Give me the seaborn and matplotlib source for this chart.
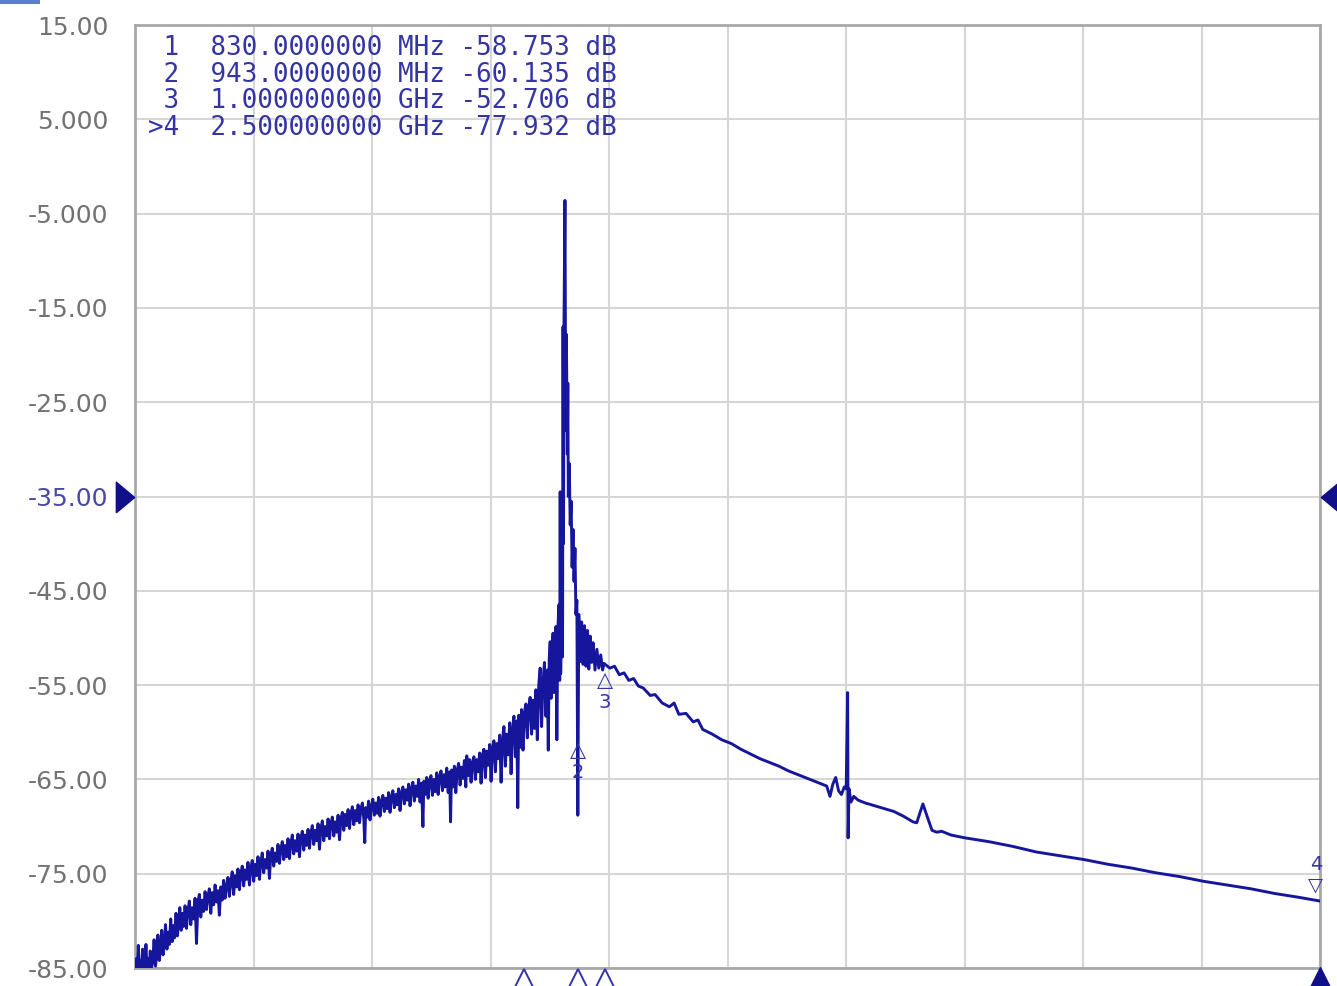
import numpy as np
import pandas as pd
import matplotlib
matplotlib.use("Agg")
import matplotlib.pyplot as plt
import matplotlib.transforms as mtransforms
from matplotlib.patches import Rectangle
import seaborn as sns

# ---------------- data ----------------
freq_mhz = [
    # floor
    14, 17, 19, 21, 23, 26, 28, 30, 32, 35, 37, 39, 42, 44, 46, 48,
    51, 54, 57, 60, 62, 65, 68, 70, 73, 76, 78, 81, 84, 86, 89, 92, 95, 97, 100, 103, 106, 108, 111, 114, 116, 119,
    122, 125, 128, 131, 134, 137, 140, 143, 146, 149, 152, 155, 158, 161, 164, 167, 170, 173, 176, 179, 182, 185,
    188, 191, 194, 197, 200, 203, 206, 209, 212,
    215, 218, 221, 224, 227, 230, 233, 236, 239, 242, 245, 248, 251, 254, 257, 260, 263, 266, 269, 272, 275, 278,
    281, 284, 287, 290, 293, 296, 299,
    302, 305, 308, 311, 314, 317, 320, 323, 326, 329, 332, 335, 338, 341, 344, 347, 350, 353, 356, 359, 362, 365,
    368, 371, 374, 377, 380, 383, 386, 389, 392, 395, 398, 401, 404, 407, 410, 413, 416, 419, 422, 425, 428, 431,
    434, 437, 440, 443, 446,
    449, 452, 455, 458, 461, 464, 467, 470, 473, 476, 479, 482, 485, 488, 491, 494, 496, 498, 501, 504, 507, 510,
    513, 516, 519, 522, 525, 528, 531, 534, 537, 540, 543, 546, 549, 552, 555, 558, 561, 564, 567, 570,
    573, 576, 579, 582, 585, 588, 591, 594, 597, 600, 603, 606, 609, 612, 615, 618, 620, 623, 626, 629, 632, 635,
    638, 641, 644, 647, 650, 653, 656, 659, 662, 665, 668, 671, 674, 676, 678,
    681, 684, 687, 690, 693, 696, 699, 702, 705, 708, 710, 713, 716, 719, 722, 725, 728, 731, 734, 737, 740, 743,
    746, 749, 752, 755, 758, 761, 764, 767, 770, 773, 776, 779,
    782, 785, 788, 791, 794, 797, 800, 803, 806, 809, 812, 815, 817, 819, 822, 825, 828, 831, 834, 837, 840, 843,
    846, 849, 852, 855, 858, 861, 864, 867, 870, 873, 876, 879, 881, 883, 885, 887, 889, 891, 893, 895, 897, 899,
    901, 903, 905, 906, 907, 909, 911,
    # carrier
    912, 913, 914, 916, 917, 918, 919, 921, 922, 923, 925, 927, 929, 931, 933, 935, 937, 939, 941, 943, 945, 948,
    951, 954, 957, 960, 963, 966, 969, 972, 975, 979, 983, 987, 991, 995, 998,
    # roll-off
    1010, 1020, 1030, 1040, 1050, 1060, 1070, 1080, 1095, 1105, 1120, 1135, 1145, 1155, 1170, 1185, 1195, 1205,
    1225, 1245, 1265, 1285, 1305, 1325, 1345, 1365, 1385, 1405, 1425, 1445, 1465, 1472, 1478, 1484, 1490, 1496,
    1502, 1506, 1509, 1510, 1512, 1516, 1522, 1531, 1546, 1566, 1586, 1606, 1626, 1646, 1654, 1661, 1667, 1675,
    1686, 1696, 1706, 1726, 1755, 1805, 1855, 1905, 1955, 2005, 2055, 2105, 2155, 2205, 2255, 2305, 2355, 2405,
    2455, 2500,
]
level_db = [
    -85, -84, -85, -82.6, -85, -84.2, -85, -83, -85, -84.5, -82.5, -85, -84, -85, -83.2, -85,
    -84.5, -82, -84.8, -83.5, -81.5, -84.2, -82.8, -81, -83.6, -82, -80.4, -83, -81.2, -82.5, -79.8, -82.2, -80.5, -81.8, -79.2, -81.6, -80, -78.6, -81, -79.2, -80.6, -78.4,
    -80.8, -79, -77.9, -80.4, -78.6, -79.8, -77.6, -82.4, -78, -77.2, -79.6, -77.8, -79, -76.9, -78.8, -77.4, -76.6, -79.2, -77, -78.3, -76.2, -78,
    -76.8, -79.4, -76.4, -77.8, -75.7, -77.6, -76.3, -75.4, -77.4,
    -75.8, -74.8, -77.2, -75.2, -76.4, -74.5, -76.7, -75, -74.2, -76.3, -74.6, -75.6, -73.8, -76.2, -74.4, -73.6, -75.8, -74, -75.2, -73.2, -75.6, -73.8,
    -72.8, -74.9, -73.5, -74.4, -72.6, -75.5, -73,
    -72.3, -74.2, -72.8, -73.7, -71.9, -73.9, -72.4, -71.6, -73.5, -72, -73.2, -71.3, -73.4, -71.8, -70.9, -72.9, -71.5, -72.6, -70.8, -73.2, -71.2, -70.5,
    -72.5, -70.9, -72, -70.3, -72.3, -70.7, -69.9, -71.9, -70.4, -71.5, -69.7, -72.4, -70.2, -69.4, -71.5, -70, -71, -69.2, -71.3, -69.7, -69, -71,
    -69.5, -70.6, -68.8, -71.4, -69.2,
    -68.5, -70.4, -68.7, -69.9, -68.2, -70.2, -68.6, -67.9, -69.8, -68.3, -69.4, -67.7, -69.6, -68.1, -67.5, -69.2, -71.7, -68, -69, -67.3, -69.3, -67.8,
    -67.1, -68.8, -67.5, -68.6, -66.9, -68.9, -67.3, -66.7, -68.4, -67, -68.1, -66.4, -68.5, -66.8, -66.2, -68, -66.6, -67.7, -66, -68.3,
    -66.4, -65.8, -67.6, -66.1, -67.2, -65.5, -67.8, -65.9, -65.3, -67.3, -65.7, -66.8, -65, -67.4, -65.4, -70, -65.2, -66.6, -64.8, -67, -65.1, -64.6,
    -66.7, -65, -66.3, -64.3, -66.6, -64.7, -64.1, -66.2, -64.5, -65.8, -63.8, -66.4, -64.2, -69.5, -64,
    -65.8, -63.6, -66.4, -64, -63.3, -65.6, -63.7, -64.9, -63, -65.8, -62.5, -64.6, -62.9, -65.3, -63.2, -62.6, -65, -62.9, -64.2, -62.2, -65.4, -62.4,
    -61.8, -64.8, -62, -63.5, -61.3, -65.2, -61.6, -60.9, -64.2, -61.2, -62.8, -60.3,
    -65.3, -60.8, -59.4, -63.6, -60.2, -62.4, -59, -64.4, -59.6, -58.3, -62.6, -58.8, -68, -58.2, -61.6, -57.6, -61.9, -57.9, -57, -60.6, -57.3, -56.3,
    -60.2, -56.6, -59.6, -55.5, -60.8, -55, -53.2, -59.4, -54.6, -52.6, -58.3, -53.4, -61.9, -52.2, -50.4, -56.4, -51.6, -49.5, -55.8, -50.2, -48.8, -60.8,
    -49.4, -46.5, -54.5, -34.5, -53.8, -47, -52,
    -17, -40, -16.5, -3.6, -17.5, -28, -17.8, -30.5, -23, -35, -31.5, -38, -35.5, -42.5, -38.5, -44, -40.5, -47.5, -46, -68.8, -47.5, -52.5,
    -48.3, -52.8, -48.7, -53, -49.2, -53.3, -49.8, -52.6, -50.5, -53.4, -51.2, -53.2, -51.8, -53.4, -52.7,
    -53.2, -53.0, -53.9, -53.7, -54.5, -54.3, -55.1, -55.3, -56.1, -56.0, -56.9, -57.3, -56.9, -58.1, -58.0, -58.9, -58.7, -59.7,
    -60.2, -60.8, -61.2, -61.8, -62.3, -62.8, -63.2, -63.6, -64.1, -64.5, -64.9, -65.3, -65.7, -66.8, -65.5, -64.8, -66.2, -66.6,
    -65.8, -66, -55.8, -71.2, -66, -67.4, -66.8, -67.2, -67.5, -67.8, -68.1, -68.4, -68.9, -69.5, -69.6, -68.5, -67.6, -68.8,
    -70.4, -70.6, -70.5, -70.9, -71.2, -71.6, -72.1, -72.7, -73.1, -73.5, -74, -74.4, -74.9, -75.3, -75.8, -76.2, -76.6, -77.1,
    -77.5, -77.9,
]

marker_ids = ["1", "2", "3", ">4"]
marker_freqs_mhz = [830, 943, 1000, 2500]
marker_vals_db = [-58.753, -60.135, -52.706, -77.932]
marker_freq_text = ["830.0000000", "943.0000000", "1.000000000", "2.500000000"]
marker_units = ["MHz", "MHz", "GHz", "GHz"]

y_ticks = [15, 5, -5, -15, -25, -35, -45, -55, -65, -75, -85]
y_tick_labels = ["15.00", "5.000", "-5.000", "-15.00", "-25.00", "-35.00",
                 "-45.00", "-55.00", "-65.00", "-75.00", "-85.00"]
x_span_mhz = (14, 2500)
ref_level = -35

df = pd.DataFrame({"freq": freq_mhz, "db": level_db})

# ---------------- styling ----------------
sns.set_theme(style="white")
plt.rcParams["font.family"] = ["DejaVu Sans"]

NAVY = "#16169c"
TEXT_BLUE = "#3434a4"
GRID = "#d6d6d6"
SPINE = "#a8a8a8"
TICK_GRAY = "#727272"

W, H = 1337, 986
fig = plt.figure(figsize=(W / 100, H / 100), dpi=100)
fig.patch.set_facecolor("white")
x0, x1, y0, y1 = 135, 1320, 25, 968
ax = fig.add_axes([x0 / W, 1 - y1 / H, (x1 - x0) / W, (y1 - y0) / H])
ax.set_facecolor("white")

sns.lineplot(data=df, x="freq", y="db", sort=False, estimator=None,
             color=NAVY, linewidth=2.1, ax=ax, zorder=3)

ax.set_xlim(*x_span_mhz)
ax.set_ylim(-85, 15)
ax.set_xticks(np.linspace(x_span_mhz[0], x_span_mhz[1], 11))
ax.set_xticklabels([])
ax.set_yticks(y_ticks)
ax.set_yticklabels(y_tick_labels, fontsize=18)
ax.tick_params(axis="both", length=0)
ax.tick_params(axis="y", pad=19, colors=TICK_GRAY)
for lbl, val in zip(ax.get_yticklabels(), y_ticks):
    if val == ref_level:
        lbl.set_color("#4a4aa6")
ax.grid(True, color=GRID, linewidth=1.5)
ax.set_axisbelow(True)
ax.set_xlabel("")
ax.set_ylabel("")
for s in ax.spines.values():
    s.set_visible(True)
    s.set_color(SPINE)
    s.set_linewidth(2.0)

# reference level arrows (tall narrow triangles)
right_tri = [(-0.3, -0.5), (0.3, 0.0), (-0.3, 0.5), (-0.3, -0.5)]
left_tri = [(0.3, -0.5), (-0.3, 0.0), (0.3, 0.5), (0.3, -0.5)]
yt = mtransforms.blended_transform_factory(ax.transAxes, ax.transData)
ax.plot([-0.0085], [ref_level], marker=right_tri, markersize=22, color="#10108a",
        transform=yt, clip_on=False, zorder=5)
ax.plot([1.0085], [ref_level], marker=left_tri, markersize=22, color="#10108a",
        transform=yt, clip_on=False, zorder=5)

# marker triangles below the axis
bt = mtransforms.blended_transform_factory(ax.transData, ax.transAxes)
for mid, f in zip(marker_ids, marker_freqs_mhz):
    if mid.startswith(">"):
        ax.plot([f], [-0.017], marker="^", markersize=24, color="#10108a",
                transform=bt, clip_on=False, zorder=6)
    else:
        ax.plot([f], [-0.017], marker="^", markersize=22, markerfacecolor="white",
                markeredgecolor=TEXT_BLUE, markeredgewidth=1.4,
                transform=bt, clip_on=False, zorder=6)

# on-trace marker symbols (2, 3 below trace; 4 above)
for mid, f, v in zip(marker_ids, marker_freqs_mhz, marker_vals_db):
    if mid == "1":
        continue
    if mid.startswith(">"):
        ax.annotate("▽", xy=(f, v), xytext=(-3, 5), textcoords="offset points",
                    ha="center", va="bottom", fontsize=14, color=TEXT_BLUE,
                    annotation_clip=False, zorder=6)
        ax.annotate(mid[1:], xy=(f, v), xytext=(-3, 20), textcoords="offset points",
                    ha="center", va="bottom", fontsize=14, color=TEXT_BLUE,
                    annotation_clip=False, zorder=6)
    else:
        ax.annotate("△", xy=(f, v), xytext=(0, -5), textcoords="offset points",
                    ha="center", va="top", fontsize=15, color=TEXT_BLUE, zorder=6)
        ax.annotate(mid, xy=(f, v), xytext=(0, -21), textcoords="offset points",
                    ha="center", va="top", fontsize=14, color=TEXT_BLUE, zorder=6)

# marker readout table
row_y_px = [48, 75, 101, 128]
for mid, ftxt, unit, val, ypx in zip(marker_ids, marker_freq_text, marker_units,
                                     marker_vals_db, row_y_px):
    yy = (y1 - ypx) / (y1 - y0)
    line = f"{mid:>2}  {ftxt} {unit} {val:.3f} dB"
    ax.text((148 - x0) / (x1 - x0), yy, line, transform=ax.transAxes,
            ha="left", va="center", fontsize=18.6, family="DejaVu Sans Mono",
            color=TEXT_BLUE, zorder=7)

# small blue tab at top-left corner
fig.patches.append(Rectangle((0, 1 - 4 / H), 40 / W, 4 / H, transform=fig.transFigure,
                             facecolor="#5a7fd0", edgecolor="none"))

fig.savefig("out.png", dpi=100, facecolor="white")
